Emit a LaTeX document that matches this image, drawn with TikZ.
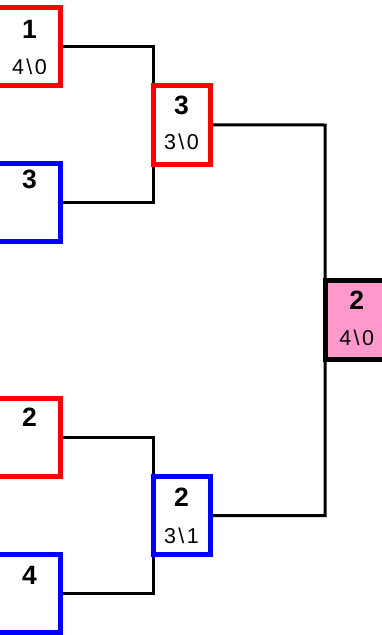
\documentclass[tikz,border=0pt]{standalone}
\usepackage{fontspec}
\setmainfont{Liberation Sans}
\definecolor{boxred}{RGB}{255,0,0}
\definecolor{boxblue}{RGB}{0,0,255}
\definecolor{boxpink}{RGB}{255,153,204}
\begin{document}
\begin{tikzpicture}[x=1pt,y=-1pt,
  teambox/.style={draw,line width=5pt,fill=white,minimum width=70pt,minimum height=78pt,inner sep=0pt,outer sep=0pt},
  midbox/.style={draw,line width=5pt,fill=white,minimum width=57pt,minimum height=78.5pt,inner sep=0pt,outer sep=0pt},
  finalbox/.style={draw=black,line width=5pt,fill=boxpink,minimum width=70pt,minimum height=79pt,inner sep=0pt,outer sep=0pt},
  seed/.style={font=\fontsize{26.5}{28}\selectfont\bfseries,inner sep=0pt,anchor=center},
  score/.style={font=\fontsize{21.5}{23}\selectfont\addfontfeature{LetterSpace=11},inner sep=0pt,anchor=center},
  wire/.style={line width=3pt,black}]
\useasboundingbox (0,0) rectangle (382,635);
\coordinate (j1) at (325,125);
\coordinate (j2) at (325,515.5);
% left column boxes
\node[teambox,draw=boxred]  (b1) at (25,46.5) {};
\node[teambox,draw=boxblue] (b2) at (25,202.5) {};
\node[teambox,draw=boxred]  (b3) at (25,437.5) {};
\node[teambox,draw=boxblue] (b4) at (25,593) {};
% middle boxes
\node[midbox,draw=boxred]  (m1) at (181.5,124.75) {};
\node[midbox,draw=boxblue] (m2) at (181.5,515.5) {};
% final
\node[finalbox] (f) at (360,320) {};
% wires
\draw[wire] (b1.east) -| (m1.north west);
\draw[wire] (b2.east) -| (m1.south west);
\draw[wire] (b3.east) -| (m2.north west);
\draw[wire] (b4.east) -| (m2.south west);
\draw[wire] (m1.east) -- (j1) -- (j2) -- (m2.east);
% redraw boxes over wires
\node[teambox,draw=boxred]  at (b1) {};
\node[teambox,draw=boxblue] at (b2) {};
\node[teambox,draw=boxred]  at (b3) {};
\node[teambox,draw=boxblue] at (b4) {};
\node[midbox,draw=boxred]  at (m1) {};
\node[midbox,draw=boxblue] at (m2) {};
\node[finalbox] at (f) {};
% texts
\node[seed]  (t1)  at (29.5,29.5) {1};
\node[score] (s1)  at (29.5,67) {4\textbackslash 0};
\node[seed]  (t2)  at (29.5,179) {3};
\node[seed]  (t3)  at (29.5,417.5) {2};
\node[seed]  (t4)  at (29.5,575) {4};
\node[seed]  (tm1) at (181.5,105) {3};
\node[score] (sm1) at (181.5,142) {3\textbackslash 0};
\node[seed]  (tm2) at (181.5,497) {2};
\node[score] (sm2) at (181.5,536) {3\textbackslash 1};
\node[seed]  (tf)  at (356.7,300) {2};
\node[score] (sf)  at (356.7,337.5) {4\textbackslash 0};
\end{tikzpicture}
\end{document}
